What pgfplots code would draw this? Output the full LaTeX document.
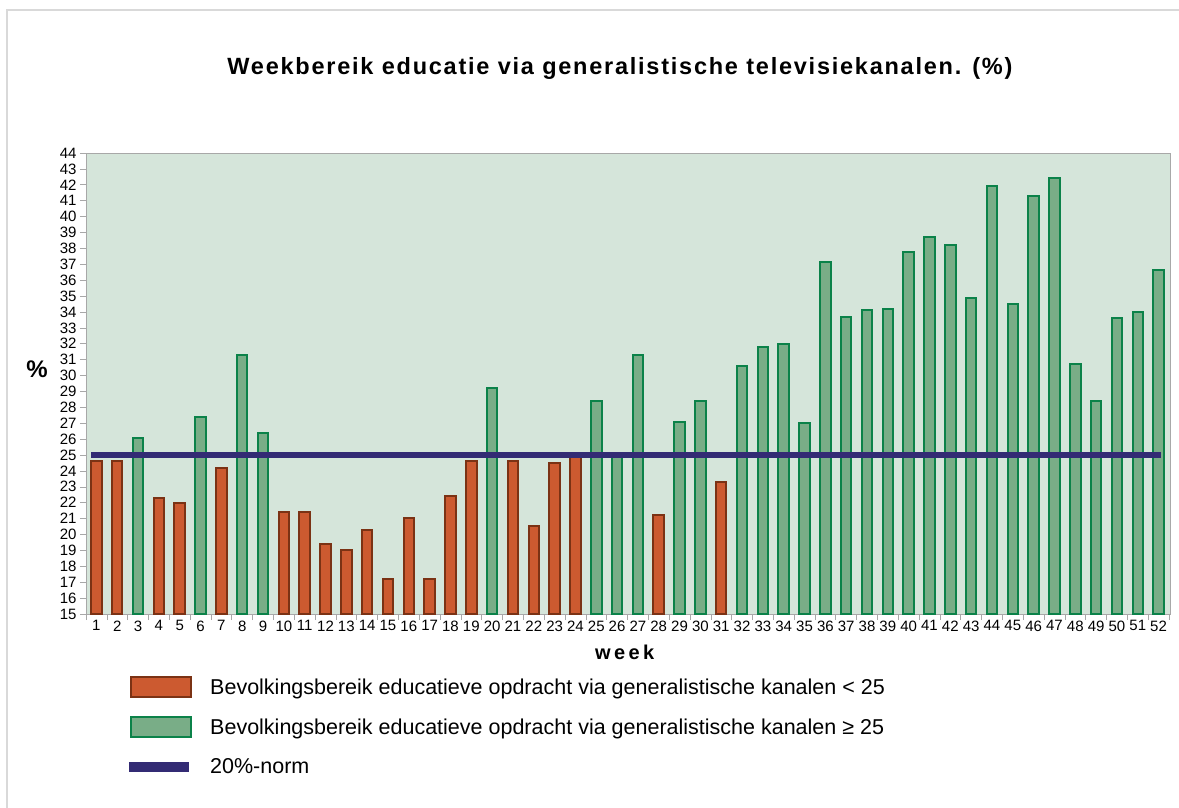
\documentclass[border=0pt]{standalone}
\usepackage{fontspec}
\setmainfont{Liberation Sans}
\usepackage{pgfplots}
\pgfplotsset{compat=1.18}
\definecolor{bg}{HTML}{D5E5DA}
\definecolor{redfill}{HTML}{CC5A30}
\definecolor{redline}{HTML}{7B3214}
\definecolor{grnfill}{HTML}{79AD87}
\definecolor{grnline}{HTML}{0B8249}
\definecolor{norm}{HTML}{332B74}
\definecolor{axgray}{HTML}{A8A8A8}

% weeks below the 25 mark
\pgfplotstableread{
week val
1  24.6
2  24.6
4  22.3
5  22.0
7  24.2
10 21.4
11 21.4
12 19.4
13 19.0
14 20.3
15 17.2
16 21.05
17 17.2
18 22.45
19 24.6
21 24.6
22 20.55
23 24.5
24 24.9
28 21.2
31 23.3
}\lowtab
% weeks at or above 25
\pgfplotstableread{
week val
3  26.05
6  27.4
8  31.3
9  26.4
20 29.2
25 28.4
26 25.0
27 31.3
29 27.1
30 28.4
32 30.6
33 31.8
34 32.0
35 27.0
36 37.15
37 33.7
38 34.1
39 34.2
40 37.8
41 38.7
42 38.2
43 34.9
44 41.9
45 34.5
46 41.3
47 42.4
48 30.7
49 28.4
50 33.6
51 34.0
52 36.65
}\hightab

\begin{document}
\begin{tikzpicture}
\path[use as bounding box] (0,0) rectangle (1179pt,-808pt);
\draw[gray!30, line width=1.5pt] (7pt,-808pt) -- (7pt,-10pt) -- (1179pt,-10pt);
\begin{axis}[
  at={(86pt,-614pt)}, anchor=south west,
  width=1084pt, height=461pt, scale only axis,
  xmin=0.5, xmax=52.55, ymin=15, ymax=44,
  axis background/.style={fill=bg},
  axis line style={axgray, line width=0.8pt},
  tick pos=left, tick align=outside,
  tick style={axgray, line width=0.6pt},
  major tick length=6pt,
  ytick={15,...,44},
  xtick={0.5,1.5,...,52.5}, xticklabels={},
  extra x ticks={1,...,52},
  extra x tick labels={1,2,3,4,5,6,7,8,9,10,11,12,13,14,15,16,17,18,19,20,21,22,23,24,25,26,27,28,29,30,31,32,33,34,35,36,37,38,39,40,41,42,43,44,45,46,47,48,49,50,51,52},
  extra x tick style={major tick length=0pt, xticklabel style={yshift=-3pt}},
  /pgf/number format/assume math mode=true,
  ticklabel style={font=\fontsize{15}{16}\selectfont, text=black},
  title={Weekbereik educatie via generalistische televisiekanalen. (\%)},
  title style={at={(rel axis cs:0.4926,1)}, anchor=center, yshift=79pt,
    font=\fontsize{23.5}{27}\selectfont\bfseries\addfontfeatures{LetterSpace=7.5}},
  xlabel={week},
  xlabel style={at={(rel axis cs:0.497,0)}, anchor=center, yshift=-38pt,
    font=\fontsize{20}{24}\selectfont\bfseries\addfontfeatures{LetterSpace=17}},
  ylabel={\%},
  ylabel style={at={(rel axis cs:0,0.53)}, anchor=center, rotate=-90, xshift=-49pt,
    font=\fontsize{24}{28}\selectfont\bfseries},
  legend style={at={(rel axis cs:0.0323,-0.1305)}, anchor=north west,
    draw=none, fill=none, row sep=18pt,
    font=\fontsize{21.5}{24}\selectfont,
    /tikz/every even column/.append style={column sep=0pt}},
  legend cell align=left,
]
\addplot[ybar, bar width=10.5pt, bar shift=0pt, fill=redfill, draw=redline, line width=2pt,
  legend image code/.code={\draw[fill=redfill, draw=redline, line width=2pt] (0pt,-10pt) rectangle (60pt,10pt);}]
  table[x=week, y=val] {\lowtab};
\addlegendentry{\hspace{14pt}Bevolkingsbereik educatieve opdracht via generalistische kanalen < 25}
\addplot[ybar, bar width=10.5pt, bar shift=0pt, fill=grnfill, draw=grnline, line width=2pt,
  legend image code/.code={\draw[fill=grnfill, draw=grnline, line width=2pt] (0pt,-10pt) rectangle (60pt,10pt);}]
  table[x=week, y=val] {\hightab};
\addlegendentry{\hspace{14pt}Bevolkingsbereik educatieve opdracht via generalistische kanalen ≥ 25}
\addplot[norm, line width=6pt, sharp plot,
  legend image code/.code={\draw[norm, line width=10pt] (-2pt,0pt) -- (58pt,0pt);}]
  coordinates {(0.76,25) (52.1,25)};
\addlegendentry{\hspace{14pt}20\%-norm}
\end{axis}
\end{tikzpicture}
\end{document}
